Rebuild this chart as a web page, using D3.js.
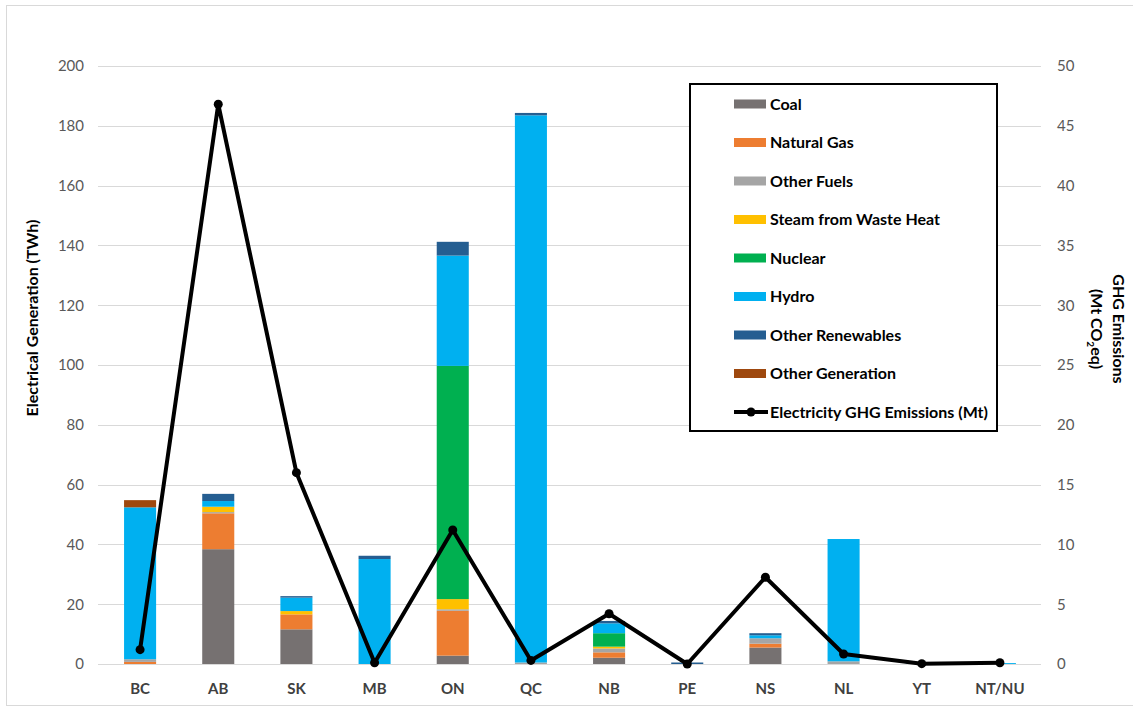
<!DOCTYPE html>
<html><head><meta charset="utf-8">
<script src="https://cdn.jsdelivr.net/npm/d3@7"></script>
<style>body{margin:0;background:#fff;} svg{display:block;font-family:Lato, "Open Sans", sans-serif;}</style>
</head><body>
<svg id="c" width="1133" height="708"></svg>
<script>
const categories = ["BC","AB","SK","MB","ON","QC","NB","PE","NS","NL","YT","NT/NU"];
const seriesNames = ["Coal","Natural Gas","Other Fuels","Steam from Waste Heat","Nuclear","Hydro","Other Renewables","Other Generation"];
const seriesColors = ["#767171","#ED7D31","#A5A5A5","#FFC000","#00B050","#00B0F0","#255E91","#9E480E"];
const coal        = [0,   38.4, 11.6, 0,    2.8, 0,    2.1, 0,   5.5, 0,    0,   0];
const naturalGas  = [0.7, 12.0, 5.0,  0,    15.0,0,    1.8, 0,   1.3, 0,    0,   0];
const otherFuels  = [0.9, 0.4,  0,    0,    0.5, 0.5,  1.3, 0,   1.8, 0.9,  0,   0];
const steamWaste  = [0,   1.8,  1.1,  0,    3.4, 0,    0.6, 0,   0,   0,    0,   0];
const nuclear     = [0,   0,    0,    0,    78.0,0,    4.5, 0,   0,   0,    0,   0];
const hydro       = [50.8,1.9,  4.5,  35.1, 36.9,183.0,3.3, 0,   1.0, 40.9, 0.2, 0.3];
const otherRenew  = [0,   2.4,  0.5,  1.1,  4.6, 0.8,  0.8, 0.5, 0.7, 0,    0,   0];
const otherGen    = [2.4, 0,    0,    0,    0,   0,    0,   0,   0,   0,    0,   0];
const ghgEmissions= [1.2, 46.8, 16.0, 0.1,  11.2,0.3,  4.2, 0.0, 7.25,0.84, 0.03,0.1];
const leftTicks = [0,20,40,60,80,100,120,140,160,180,200];
const rightTicks = [0,5,10,15,20,25,30,35,40,45,50];

const seriesValues = [coal,naturalGas,otherFuels,steamWaste,nuclear,hydro,otherRenew,otherGen];
const svg = d3.select("#c");
const L=98, R=1041, T=66, B=664;

svg.append("rect").attr("x",6.5).attr("y",5.5).attr("width",1140).attr("height",700)
  .attr("fill","none").attr("stroke","#d9d9d9").attr("stroke-width",1);

const x = d3.scaleBand().domain(categories).range([101,1039]).paddingInner(0.59).paddingOuter(0.295);
const y = d3.scaleLinear().domain([0,200]).range([B,T]);
const y2 = d3.scaleLinear().domain([0,50]).range([B,T]);

// grid
svg.append("g").selectAll("line").data(leftTicks).join("line")
  .attr("x1",L).attr("x2",R).attr("y1",d=>Math.round(y(d))+0.5).attr("y2",d=>Math.round(y(d))+0.5)
  .attr("stroke","#d9d9d9").attr("stroke-width",1);

// left axis
const ax = d3.axisLeft(y).tickValues(leftTicks).tickSize(0).tickPadding(14);
const gL = svg.append("g").attr("transform",`translate(${L},0)`).call(ax);
gL.select(".domain").remove();
gL.selectAll("text").attr("font-size",15).attr("fill","#595959").attr("font-family","Lato, sans-serif");

const ax2 = d3.axisRight(y2).tickValues(rightTicks).tickSize(0).tickPadding(16);
const gR = svg.append("g").attr("transform",`translate(${R},0)`).call(ax2);
gR.select(".domain").remove();
gR.selectAll("text").attr("font-size",15).attr("fill","#595959").attr("font-family","Lato, sans-serif");

const axB = d3.axisBottom(x).tickSize(0).tickPadding(19);
const gB = svg.append("g").attr("transform",`translate(0,${B})`).call(axB);
gB.select(".domain").remove();
gB.selectAll("text").attr("font-size",15).attr("font-weight","bold").attr("fill","#404040").attr("font-family","Lato, sans-serif");

// stacked bars
const rows = categories.map((c,i)=>{const o={cat:c}; seriesNames.forEach((s,j)=>o[s]=seriesValues[j][i]); return o;});
const stack = d3.stack().keys(seriesNames)(rows);
svg.append("g").selectAll("g").data(stack).join("g")
  .attr("fill",(d,i)=>seriesColors[i])
  .selectAll("rect").data(d=>d).join("rect")
  .attr("x",d=>x(d.data.cat)).attr("width",x.bandwidth())
  .attr("y",d=>y(d[1])).attr("height",d=>Math.max(0,y(d[0])-y(d[1])));

// line
const line = d3.line().x((d,i)=>x(categories[i])+x.bandwidth()/2).y(d=>y2(d));
svg.append("path").datum(ghgEmissions).attr("d",line).attr("fill","none")
  .attr("stroke","#000").attr("stroke-width",4).attr("stroke-linejoin","round");
svg.append("g").selectAll("circle").data(ghgEmissions).join("circle")
  .attr("cx",(d,i)=>x(categories[i])+x.bandwidth()/2).attr("cy",d=>y2(d)).attr("r",4.5).attr("fill","#000");

// axis titles
svg.append("text").attr("transform","translate(38,318) rotate(-90)").attr("text-anchor","middle")
  .attr("font-size",16).attr("font-weight","bold").attr("fill","#000").text("Electrical Generation (TWh)");
const rt = svg.append("g").attr("transform","translate(1113,329) rotate(90)");
rt.append("text").attr("text-anchor","middle").attr("y",0).attr("font-size",16).attr("font-weight","bold").text("GHG Emissions");
const t2 = rt.append("text").attr("text-anchor","middle").attr("y",22).attr("font-size",16).attr("font-weight","bold");
t2.append("tspan").text("(Mt CO");
t2.append("tspan").attr("font-size",10).attr("dy",4).text("2");
t2.append("tspan").attr("dy",-4).text("eq)");

// legend
const lg = svg.append("g");
lg.append("rect").attr("x",690).attr("y",84).attr("width",307).attr("height",347)
  .attr("fill","#fff").attr("stroke","#000").attr("stroke-width",2);
const legY0 = 104, legStep = 38.5;
seriesNames.forEach((s,i)=>{
  const yy = legY0 + i*legStep;
  lg.append("rect").attr("x",734).attr("y",yy-4.5).attr("width",32).attr("height",9).attr("fill",seriesColors[i]);
  lg.append("text").attr("x",770).attr("y",yy+5.5).attr("font-size",16).attr("font-weight","bold").attr("fill","#000").text(s);
});
const ly = legY0 + 8*legStep;
lg.append("line").attr("x1",734).attr("x2",768).attr("y1",ly).attr("y2",ly).attr("stroke","#000").attr("stroke-width",4);
lg.append("circle").attr("cx",751).attr("cy",ly).attr("r",4.5).attr("fill","#000");
lg.append("text").attr("x",770).attr("y",ly+5.5).attr("font-size",16).attr("font-weight","bold").attr("fill","#000").text("Electricity GHG Emissions (Mt)");
</script>
</body></html>
